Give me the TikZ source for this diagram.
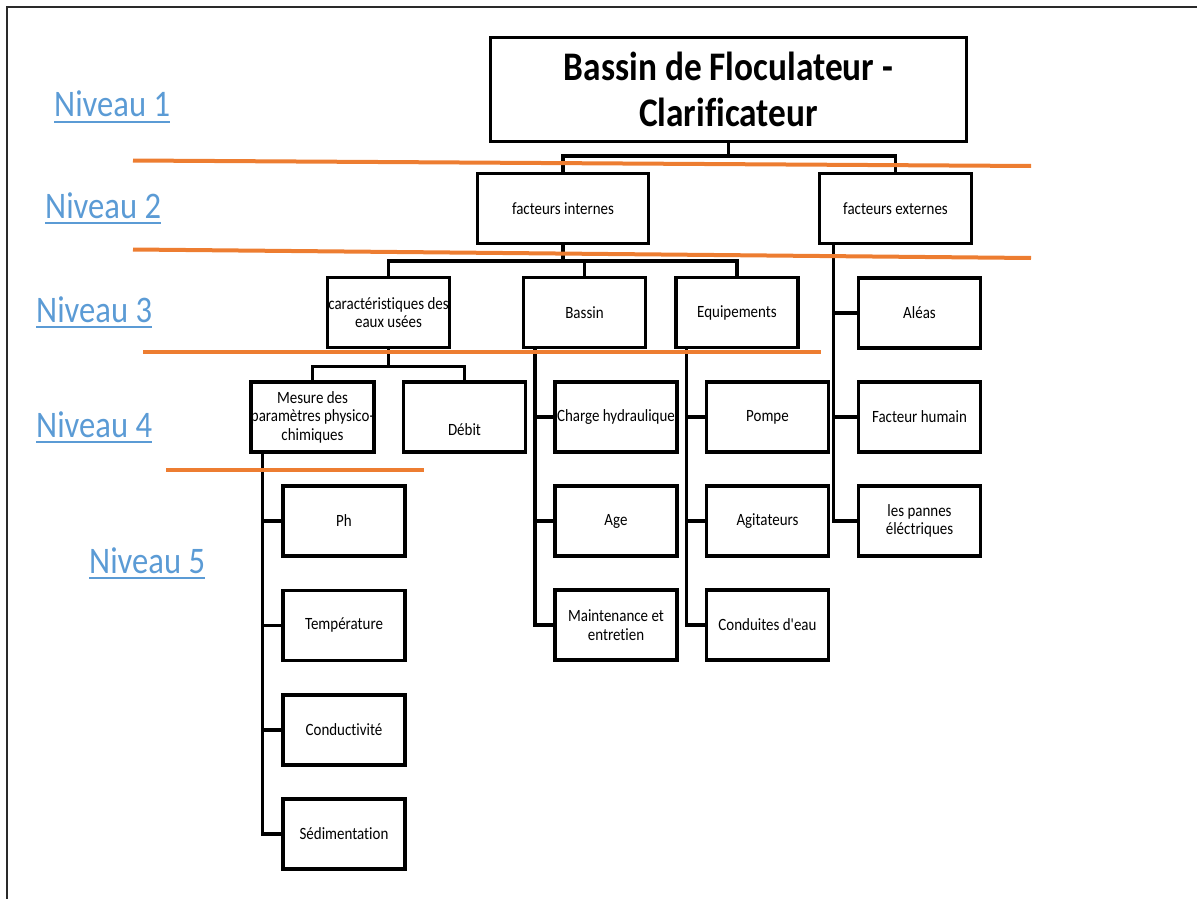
\documentclass[tikz,border=0pt]{standalone}
\usepackage{fontspec}
\defaultfontfeatures[\rmfamily]{}
\setmainfont{Carlito}[FakeStretch=0.87, Ligatures={NoCommon}]
\definecolor{lvlblue}{HTML}{5B9BD5}
\definecolor{sep}{HTML}{ED7D31}
\definecolor{frame}{HTML}{2A2A2A}
\tikzset{
  box/.style={draw, line width=3.5pt, minimum width=122pt, minimum height=70pt,
              inner sep=0pt, align=center, font=\fontsize{17.2}{18.5}\selectfont},
  conn/.style={line width=3.5pt, line join=miter},
  cut/.style={line width=4pt, draw=sep},
  lvl/.style={anchor=base west, inner sep=0pt, text=lvlblue, font=\fontsize{37.5}{40}\selectfont},
  uline/.style={line width=2.5pt, draw=lvlblue},
  txt/.style={inner sep=0pt, font=\fontsize{17.2}{18.5}\selectfont}
}
\begin{document}
\begin{tikzpicture}[x=1pt, y=-1pt]
\useasboundingbox (0,0) rectangle (1197,899);
% page frame
\draw[line width=2.2pt, frame] (7,899) -- (7,7) -- (1197,7);

% level 1
\node[box, minimum width=476pt, minimum height=104pt, font=\fontsize{40.6}{46}\selectfont\bfseries]
  (root) at (728.5,89.5) {Bassin de Floculateur -\\Clarif\kern0pt icateur};
% level 2
\node[box, minimum width=171pt] (fi) at (563,208.5) {facteurs internes};
\node[box, minimum width=152pt] (fe) at (895.5,208.5) {facteurs externes};
% level 3
\node[box] (car) at (388.5,312.5) {caractéristiques des\\eaux usées};
\node[box] (bas) at (584.5,312.5) {Bassin};
\node[box] (equ) at (737,312.5) {Equipements};
\node[box] (ale) at (919.5,313) {Aléas};
% level 4
\node[box] (mes) at (312.5,417) {Mesure des\\paramètres physico-\\chimiques};
\node[box] (deb) at (464.5,417) {};
\node[txt] (debt) at (464.5,430) {Débit};
\node[box] (cha) at (616,417) {Charge hydraulique};
\node[box] (pom) at (767.5,417) {Pompe};
\node[box] (hum) at (919.5,417) {Facteur humain};
\node[box] (age) at (616,521) {Age};
\node[box] (agi) at (767.5,521) {Agitateurs};
\node[box] (pan) at (919.5,521) {les pannes\\éléctriques};
\node[box] (mai) at (616,625) {Maintenance et\\entretien};
\node[box] (con) at (767.5,625) {Conduites d'eau};
% level 5
\node[box] (ph) at (344,521) {Ph};
\node[box] (tem) at (344,625.5) {Température};
\node[box] (cnd) at (344,730) {Conductivité};
\node[box] (sed) at (344,834) {Sédimentation};

% junction points
\coordinate (j1) at (728.5,156);
\coordinate (j2) at (563,261);
\coordinate (j3) at (388.5,366.5);
\coordinate (vb) at (535,0);
\coordinate (ve) at (686.5,0);
\coordinate (vx) at (833.5,0);
\coordinate (vm) at (262.5,0);

% connectors
\draw[conn] (root.south) -- (j1);
\draw[conn] (fi.north) -- (fi.north |- j1) -- (fe.north |- j1) -- (fe.north);
\draw[conn] (fi.south) -- (j2);
\draw[conn] (car.north) -- (car.north |- j2) -- (equ.north |- j2) -- (equ.north);
\draw[conn] (bas.north) -- (bas.north |- j2);
\draw[conn] (car.south) -- (j3);
\draw[conn] (mes.north) -- (mes.north |- j3) -- (deb.north |- j3) -- (deb.north);

\draw[conn] (bas.south -| vb) -- (mai.west -| vb) -- (mai.west);
\draw[conn] (cha.west -| vb) -- (cha.west);
\draw[conn] (age.west -| vb) -- (age.west);

\draw[conn] (equ.south -| ve) -- (con.west -| ve) -- (con.west);
\draw[conn] (pom.west -| ve) -- (pom.west);
\draw[conn] (agi.west -| ve) -- (agi.west);

\draw[conn] (fe.south -| vx) -- (pan.west -| vx) -- (pan.west);
\draw[conn] (ale.west -| vx) -- (ale.west);
\draw[conn] (hum.west -| vx) -- (hum.west);

\draw[conn] (mes.south -| vm) -- (sed.west -| vm) -- (sed.west);
\draw[conn] (ph.west -| vm) -- (ph.west);
\draw[conn] (tem.west -| vm) -- (tem.west);
\draw[conn] (cnd.west -| vm) -- (cnd.west);

% level separators
\draw[cut] (133,160.5) -- (1031,166);
\draw[cut] (133,249.5) -- (1031,258);
\draw[cut] (143,352) -- (820.5,352);
\draw[cut] (166,469.5) -- (424,469.5);

% level labels
\node[lvl] (n1) at (54,117) {Niveau 1};
\node[lvl] (n2) at (45,218) {Niveau 2};
\node[lvl] (n3) at (36,322) {Niveau 3};
\node[lvl] (n4) at (36,437) {Niveau 4};
\node[lvl] (n5) at (89,573) {Niveau 5};
\foreach \n in {n1,n2,n3,n4,n5}
  \draw[uline] ([yshift=-5pt]\n.base west) -- ([yshift=-5pt]\n.base east);
\end{tikzpicture}
\end{document}
